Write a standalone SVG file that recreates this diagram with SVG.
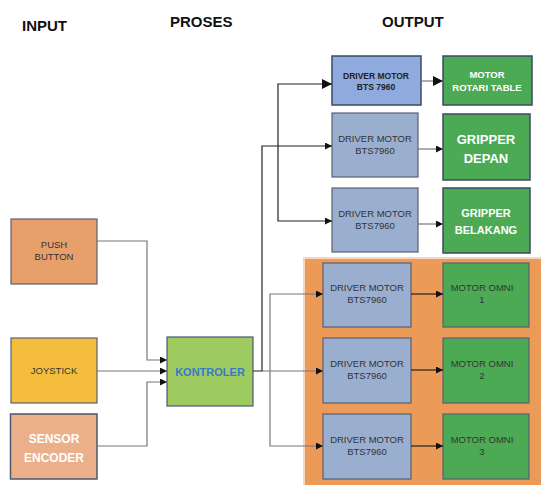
<svg xmlns="http://www.w3.org/2000/svg" width="541" height="485" viewBox="0 0 541 485">
<style>
.hdr{font-family:"Liberation Sans",Arial,sans-serif;font-weight:bold;font-size:15px;fill:#111}
.box{stroke:#5a6070;stroke-width:1.2}
.t{font-family:"Liberation Sans",Arial,sans-serif;font-size:9.5px;fill:#333;text-anchor:middle}
.tb{font-family:"Liberation Sans",Arial,sans-serif;font-weight:bold;text-anchor:middle}
.c{fill:none;stroke:#777;stroke-width:1.2}
.k{fill:none;stroke:#222;stroke-width:1.2}
</style>
<defs>
<marker id="ah" viewBox="0 0 10 10" refX="10" refY="5" markerWidth="7" markerHeight="7" markerUnits="userSpaceOnUse" orient="auto"><path d="M0,0L10,5L0,10z" fill="#111"/></marker>
<marker id="ahb" viewBox="0 0 10 10" refX="10" refY="5" markerWidth="10" markerHeight="10" markerUnits="userSpaceOnUse" orient="auto"><path d="M0,0L10,5L0,10z" fill="#111"/></marker>
</defs>
<rect width="541" height="485" fill="#fff"/>
<text class="hdr" x="22" y="31">INPUT</text>
<text class="hdr" x="170" y="27">PROSES</text>
<text class="hdr" x="382" y="27">OUTPUT</text>

<rect x="304" y="258" width="240" height="230" fill="#EC9A58" stroke="#f6d7bd" stroke-width="2"/>

<g id="push-button"><rect class="box" x="11" y="219" width="86" height="65" fill="#E8A06A"/><text class="t" x="54" y="248">PUSH</text><text class="t" x="54" y="260">BUTTON</text></g>
<g id="joystick"><rect class="box" x="11" y="338" width="86" height="65" fill="#F4BE3C"/><text class="t" x="54" y="374">JOYSTICK</text></g>
<g id="sensor-encoder"><rect x="10.5" y="414" width="86.5" height="65" fill="#EBB08A" stroke="#4a5870" stroke-width="1.5"/><text class="tb" x="54" y="443" font-size="12" fill="#fff">SENSOR</text><text class="tb" x="54" y="462" font-size="12" fill="#fff">ENCODER</text></g>
<g id="kontroler"><rect x="167" y="337" width="86" height="69" fill="#9DCB5F" stroke="#4a5870" stroke-width="1.2"/><text class="tb" x="210" y="376" font-size="11" fill="#3a78c8">KONTROLER</text></g>

<g id="driver-1"><rect x="332" y="56" width="89" height="49" fill="#8FAADC" stroke="#3d4a66" stroke-width="1.5"/><text class="tb" x="376" y="79" font-size="8.5" fill="#222">DRIVER MOTOR</text><text class="tb" x="376" y="90" font-size="8.5" fill="#222">BTS 7960</text></g>
<g id="motor-rotari"><rect x="443" y="56" width="89" height="49" fill="#4CAA55" stroke="#3d4a66" stroke-width="1.5"/><text class="tb" x="487" y="78" font-size="9.5" fill="#fff">MOTOR</text><text class="tb" x="487" y="91" font-size="9.5" fill="#fff">ROTARI TABLE</text></g>

<g id="driver-2"><rect class="box" x="332" y="113" width="86" height="64" fill="#9AAFCF"/><text class="t" x="375" y="142">DRIVER MOTOR</text><text class="t" x="375" y="154">BTS7960</text></g>
<g id="gripper-depan"><rect x="443" y="114" width="87" height="66" fill="#4CAA55" stroke="#3d4a66" stroke-width="1.5"/><text class="tb" x="486" y="144" font-size="13" fill="#fff">GRIPPER</text><text class="tb" x="486" y="163" font-size="13" fill="#fff">DEPAN</text></g>

<g id="driver-3"><rect class="box" x="332" y="188" width="86" height="64" fill="#9AAFCF"/><text class="t" x="375" y="217">DRIVER MOTOR</text><text class="t" x="375" y="229">BTS7960</text></g>
<g id="gripper-belakang"><rect x="443" y="188" width="87" height="65" fill="#4CAA55" stroke="#3d4a66" stroke-width="1.5"/><text class="tb" x="486" y="217" font-size="11" fill="#fff">GRIPPER</text><text class="tb" x="486" y="234" font-size="11" fill="#fff">BELAKANG</text></g>

<g id="driver-omni-1"><rect class="box" x="323" y="263" width="88" height="64" fill="#9AAFCF"/><text class="t" x="367" y="291">DRIVER MOTOR</text><text class="t" x="367" y="303">BTS7960</text></g>
<g id="motor-omni-1"><rect class="box" x="443" y="263" width="86" height="64" fill="#4CAA55"/><text class="t" x="482" y="291" fill="#222">MOTOR OMNI</text><text class="t" x="482" y="303" fill="#222">1</text></g>
<g id="driver-omni-2"><rect class="box" x="323" y="338" width="88" height="65" fill="#9AAFCF"/><text class="t" x="367" y="367">DRIVER MOTOR</text><text class="t" x="367" y="379">BTS7960</text></g>
<g id="motor-omni-2"><rect class="box" x="443" y="338" width="86" height="65" fill="#4CAA55"/><text class="t" x="482" y="367" fill="#222">MOTOR OMNI</text><text class="t" x="482" y="379" fill="#222">2</text></g>
<g id="driver-omni-3"><rect class="box" x="323" y="414" width="88" height="65" fill="#9AAFCF"/><text class="t" x="367" y="443">DRIVER MOTOR</text><text class="t" x="367" y="455">BTS7960</text></g>
<g id="motor-omni-3"><rect class="box" x="443" y="414" width="86" height="65" fill="#4CAA55"/><text class="t" x="482" y="443" fill="#222">MOTOR OMNI</text><text class="t" x="482" y="455" fill="#222">3</text></g>

<g id="connectors">
<path class="c" d="M97,241H147V360H167" marker-end="url(#ah)"/>
<path class="c" d="M97,371H167" marker-end="url(#ah)"/>
<path class="c" d="M97,446H147V382H167" marker-end="url(#ah)"/>
<path class="k" d="M253,371H262V146H332" marker-end="url(#ah)"/>
<path class="k" d="M278,146V84H332" marker-end="url(#ahb)"/>
<path class="k" d="M278,146V221H332" marker-end="url(#ah)"/>
<path class="c" d="M421,81H443" marker-end="url(#ahb)"/>
<path class="c" d="M418,149H443" marker-end="url(#ah)"/>
<path class="c" d="M418,224H443" marker-end="url(#ah)"/>
<path class="c" d="M262,371H323" marker-end="url(#ah)"/>
<path class="c" d="M270,371V294H323" marker-end="url(#ah)"/>
<path class="c" d="M270,371V446H323" marker-end="url(#ah)"/>
<path class="k" d="M411,294H443" marker-end="url(#ah)"/>
<path class="k" d="M411,370H443" marker-end="url(#ah)"/>
<path class="k" d="M411,446H443" marker-end="url(#ah)"/>
</g>
</svg>
